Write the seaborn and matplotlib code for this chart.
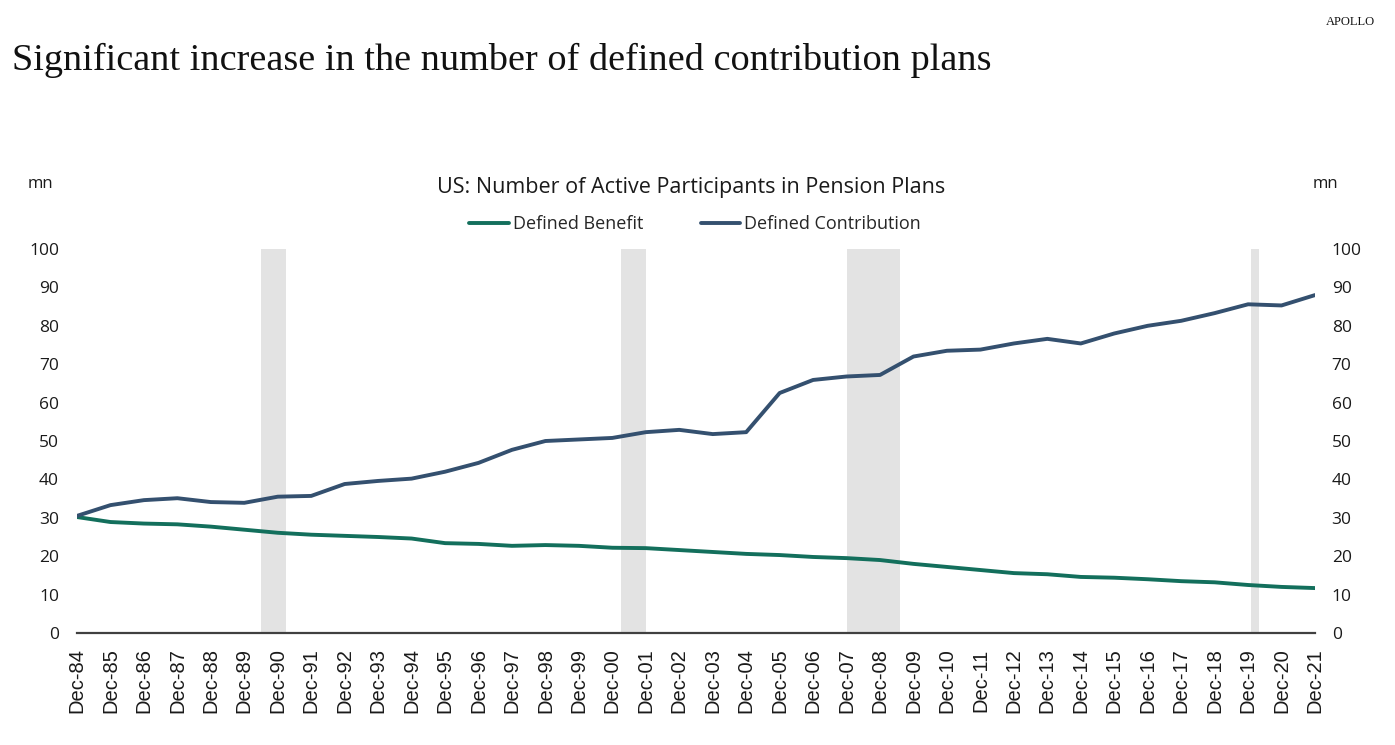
import numpy as np
import pandas as pd
import matplotlib
matplotlib.use("Agg")
import matplotlib.pyplot as plt
import seaborn as sns
from matplotlib.lines import Line2D

# ---- data ----
years = list(range(1984, 2022))
tick_labels = [f"Dec-{y % 100:02d}" for y in years]
defined_benefit = [30.2, 28.9, 28.5, 28.3, 27.7, 26.9, 26.1, 25.6, 25.3, 25.0, 24.6,
                   23.4, 23.2, 22.7, 22.9, 22.7, 22.2, 22.1, 21.6, 21.1, 20.6, 20.3,
                   19.8, 19.5, 19.0, 18.0, 17.2, 16.4, 15.6, 15.3, 14.6, 14.4, 14.0,
                   13.5, 13.2, 12.5, 12.0, 11.7]
defined_contribution = [30.5, 33.3, 34.6, 35.1, 34.1, 33.9, 35.5, 35.7, 38.8, 39.6, 40.2,
                        42.0, 44.3, 47.7, 50.0, 50.4, 50.8, 52.3, 52.9, 51.8, 52.3, 62.5,
                        65.9, 66.8, 67.2, 72.0, 73.5, 73.8, 75.4, 76.6, 75.4, 78.0, 80.0,
                        81.3, 83.3, 85.6, 85.3, 88.0]
recession_start = ["1990-06", "2001-03", "2007-12", "2020-01"]
recession_end = ["1991-03", "2001-12", "2009-07", "2020-04"]


def to_frac(s):
    y, m = s.split("-")
    return int(y) + (int(m) - 1) / 12.0


x_vals = [y + 11 / 12 for y in years]
df = pd.DataFrame({
    "x": x_vals * 2,
    "value": defined_benefit + defined_contribution,
    "series": ["Defined Benefit"] * len(years) + ["Defined Contribution"] * len(years),
})

sns.set_theme(style="white")
plt.rcParams["font.family"] = ["Open Sans", "DejaVu Sans"]

fig = plt.figure(figsize=(13.95, 7.45), dpi=100)
ax = fig.add_axes([77 / 1395, 1 - 633 / 745, (1315 - 77) / 1395, (633 - 249) / 745])

for s, e in zip(recession_start, recession_end):
    ax.axvspan(to_frac(s), to_frac(e), color="#e3e3e3", lw=0, zorder=0)

palette = {"Defined Benefit": "#136f5c", "Defined Contribution": "#34506f"}
sns.lineplot(data=df, x="x", y="value", hue="series", palette=palette,
             linewidth=2.8, ax=ax, legend=False, zorder=3)

ax.set_xlim(x_vals[0], x_vals[-1])
ax.set_ylim(0, 100)
ax.set_yticks(range(0, 101, 10))
ax.set_xticks(x_vals)
ax.set_xticklabels(tick_labels, rotation=90, fontsize=14.5,
                   fontfamily="Liberation Sans", color="#1a1a1a")
ax.set_xlabel("")
ax.set_ylabel("")
for sp in ["left", "right", "top"]:
    ax.spines[sp].set_visible(False)
ax.spines["bottom"].set_color("#404040")
ax.spines["bottom"].set_linewidth(1.6)
ax.tick_params(axis="x", direction="out", length=7, width=1.4, color="#404040", pad=4)
ax.tick_params(axis="y", length=0, labelsize=12.5, labelcolor="#1a1a1a", pad=13)
ax.grid(False)

ax2 = ax.twinx()
ax2.set_ylim(0, 100)
ax2.set_yticks(range(0, 101, 10))
for sp in ["left", "right", "top", "bottom"]:
    ax2.spines[sp].set_visible(False)
ax2.tick_params(axis="y", length=0, labelsize=12.5, labelcolor="#1a1a1a", pad=12)
ax2.grid(False)

# texts
fig.text(12 / 1395, 1 - 60 / 745, "Significant increase in the number of defined contribution plans",
         fontsize=27.5, fontfamily="Liberation Serif", va="center", ha="left", color="#111111")
fig.text(1375 / 1395, 1 - 22 / 745, "APOLLO", fontsize=9, fontfamily="Liberation Serif",
         ha="right", va="center", color="#111111")
fig.text(691 / 1395, 1 - 188 / 745, "US: Number of Active Participants in Pension Plans",
         fontsize=15.5, ha="center", va="center", color="#1a1a1a")
fig.text(40 / 1395, 1 - 184 / 745, "mn", fontsize=12, ha="center", va="center", color="#1a1a1a")
fig.text(1325 / 1395, 1 - 184 / 745, "mn", fontsize=12, ha="center", va="center", color="#1a1a1a")

handles = [Line2D([], [], color=palette["Defined Benefit"], lw=2.8),
           Line2D([], [], color=palette["Defined Contribution"], lw=2.8)]
fig.legend(handles, ["Defined Benefit", "Defined Contribution"], loc="center",
           bbox_to_anchor=(695 / 1395, 1 - 224 / 745), ncol=2, frameon=False,
           fontsize=13, handlelength=2.2, handletextpad=0.2, columnspacing=3.2)

fig.savefig("out.png", dpi=100)
